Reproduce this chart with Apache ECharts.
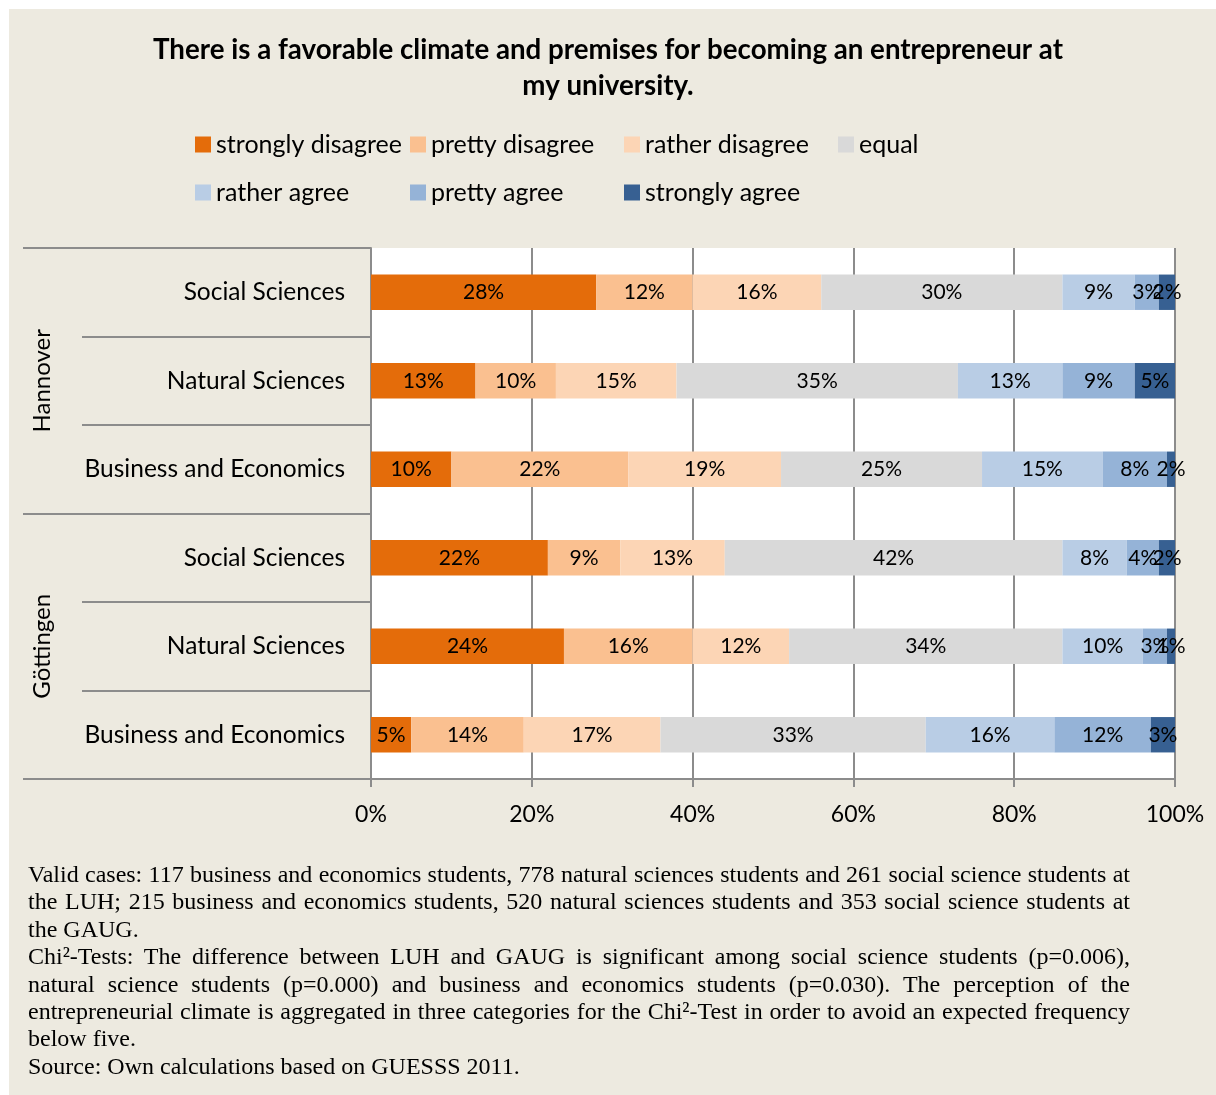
<!DOCTYPE html>
<html>
<head>
<meta charset="utf-8">
<title>Entrepreneurial climate at LUH and GAUG</title>
<script src="https://cdn.jsdelivr.net/npm/echarts@6/dist/echarts.min.js"></script>
<style>
  html, body { margin: 0; padding: 0; background: #ffffff; }
  #frame { position: absolute; left: 9px; top: 9px; width: 1207px; height: 1086px; background: #EDEAE0; }
  #chart { position: absolute; left: 0; top: 0; width: 1216px; height: 1095px; }
  #notes {
    position: absolute; left: 28px; top: 861px; width: 1102px;
    font-family: "Liberation Serif", "DejaVu Serif", serif; font-size: 24px; line-height: 27.4px;
    color: #000;
  }
  #notes div { white-space: nowrap; }
  #notes div.j { text-align: justify; text-align-last: justify; }
</style>
</head>
<body>
<div id="frame"></div>
<div id="chart"></div>
<div id="notes">
  <div class="j">Valid cases: 117 business and economics students, 778 natural sciences students and 261 social science students at</div>
  <div class="j">the LUH; 215 business and economics students, 520 natural sciences students and 353 social science students at</div>
  <div>the GAUG.</div>
  <div class="j">Chi²-Tests: The difference between LUH and GAUG is significant among social science students (p=0.006),</div>
  <div class="j">natural science students (p=0.000) and business and economics students (p=0.030). The perception of the</div>
  <div class="j">entrepreneurial climate is aggregated in three categories for the Chi²-Test in order to avoid an expected frequency</div>
  <div>below five.</div>
  <div>Source: Own calculations based on GUESSS 2011.</div>
</div>
<script>
// Universities (outer grouping) and fields of study (rows, top to bottom)
const universities = ['Hannover', 'Göttingen'];
const fields = [
  'Social Sciences', 'Natural Sciences', 'Business and Economics',
  'Social Sciences', 'Natural Sciences', 'Business and Economics'
];

// Answer categories
const answers = [
  'strongly disagree', 'pretty disagree', 'rather disagree', 'equal',
  'rather agree', 'pretty agree', 'strongly agree'
];

// Share of students (%) per answer, one value per row
const stronglyDisagree = [28, 13, 10, 22, 24, 5];
const prettyDisagree   = [12, 10, 22,  9, 16, 14];
const ratherDisagree   = [16, 15, 19, 13, 12, 17];
const equal            = [30, 35, 25, 42, 34, 33];
const ratherAgree      = [ 9, 13, 15,  8, 10, 16];
const prettyAgree      = [ 3,  9,  8,  4,  3, 12];
const stronglyAgree    = [ 2,  5,  2,  2,  1,  3];

const percentTicks = [0, 20, 40, 60, 80, 100];

const seriesValues = [
  stronglyDisagree, prettyDisagree, ratherDisagree, equal,
  ratherAgree, prettyAgree, stronglyAgree
];
const palette = ['#E46C0A', '#FAC090', '#FCD5B5', '#D9D9D9', '#B9CDE5', '#95B3D7', '#376092'];

const FONT = 'Lato';
const GRID_GREY = '#8C8C8C';

// Legend laid out as a 4-column table: one legend entry per cell
const legendColumns = [190, 405, 619, 833];
const legendRows = [127, 175];
const legends = answers.map((name, i) => ({
  data: [name],
  left: legendColumns[i % 4],
  top: legendRows[Math.floor(i / 4)],
  itemWidth: 16, itemHeight: 16,
  icon: 'rect',
  selectedMode: false,
  textStyle: { fontFamily: FONT, fontSize: 25, color: '#000' }
}));

const chart = echarts.init(document.getElementById('chart'));

chart.setOption({
  backgroundColor: 'transparent',
  textStyle: { fontFamily: FONT },
  title: {
    text: 'There is a favorable climate and premises for becoming an entrepreneur at\nmy university.',
    left: 'center',
    top: 27,
    textStyle: {
      fontFamily: FONT, fontSize: 27.7, fontWeight: 'bold', color: '#000',
      lineHeight: 36, align: 'center'
    }
  },
  legend: legends,
  grid: {
    left: 371, right: 41, top: 248, bottom: 316,
    backgroundColor: '#FFFFFF', show: true, borderWidth: 0
  },
  xAxis: {
    type: 'value',
    min: 0, max: 100, interval: 20,
    axisLine: { show: true, lineStyle: { color: GRID_GREY, width: 2 } },
    axisTick: { show: true, length: 8, lineStyle: { color: GRID_GREY, width: 2 } },
    splitLine: { show: true, lineStyle: { color: GRID_GREY, width: 2 } },
    axisLabel: {
      fontFamily: FONT, fontSize: 23, color: '#000', margin: 24,
      formatter: v => percentTicks.includes(v) ? v + '%' : ''
    }
  },
  yAxis: [
    {
      type: 'category',
      data: fields,
      inverse: true,
      axisLine: { show: true, lineStyle: { color: GRID_GREY, width: 2 } },
      axisTick: { show: true, length: 289, lineStyle: { color: GRID_GREY, width: 2 } },
      axisLabel: { fontFamily: FONT, fontSize: 24.5, color: '#000', margin: 26 }
    },
    {
      type: 'category',
      data: universities,
      inverse: true,
      position: 'left',
      offset: 289,
      axisLine: { show: false },
      axisTick: { show: true, length: 59, lineStyle: { color: GRID_GREY, width: 2 } },
      axisLabel: { fontFamily: FONT, fontSize: 24, color: '#000', rotate: 90, margin: 28 }
    }
  ],
  series: answers.map((name, i) => ({
    name: name,
    type: 'bar',
    stack: 'share',
    yAxisIndex: 0,
    barWidth: '40%',
    data: seriesValues[i],
    itemStyle: { color: palette[i] },
    label: {
      show: true,
      position: 'inside',
      formatter: '{c}%',
      fontFamily: FONT, fontSize: 21, color: '#000'
    },
    emphasis: { disabled: true }
  }))
});
</script>
</body>
</html>
